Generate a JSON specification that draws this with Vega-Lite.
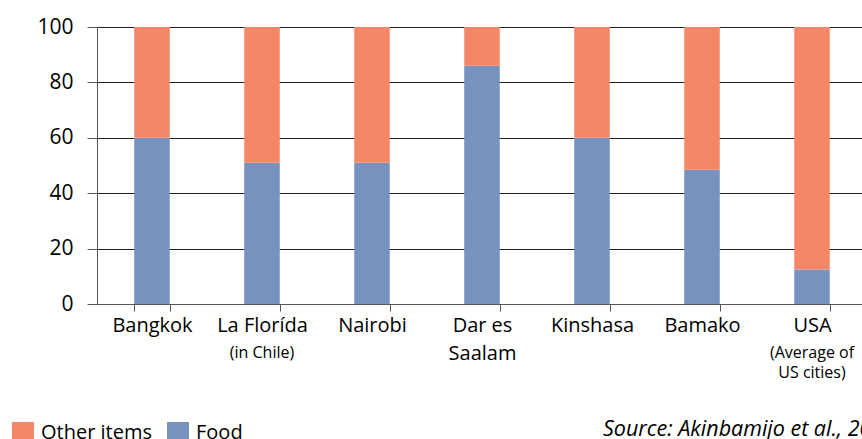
{
  "$schema": "https://vega.github.io/schema/vega-lite/v6.json",
  "width": 765,
  "height": 277,
  "autosize": {"type": "none"},
  "padding": {"left": 97, "top": 27, "right": 0, "bottom": 135},
  "config": {"font": "Open Sans", "view": {"stroke": null}},
  "title": {
    "text": "Source: Akinbamijo et al., 2002",
    "orient": "bottom",
    "anchor": "start",
    "frame": "group",
    "dx": 506,
    "offset": -25,
    "fontSize": 21.5,
    "fontStyle": "italic",
    "fontWeight": "normal",
    "color": "#000"
  },
  "datasets": {
    "bars": [
      {"city": "Bangkok", "category": "Food", "value": 60},
      {"city": "Bangkok", "category": "Other items", "value": 40},
      {"city": "La Florída", "category": "Food", "value": 51},
      {"city": "La Florída", "category": "Other items", "value": 49},
      {"city": "Nairobi", "category": "Food", "value": 51},
      {"city": "Nairobi", "category": "Other items", "value": 49},
      {"city": "Dar es Saalam", "category": "Food", "value": 86},
      {"city": "Dar es Saalam", "category": "Other items", "value": 14},
      {"city": "Kinshasa", "category": "Food", "value": 60},
      {"city": "Kinshasa", "category": "Other items", "value": 40},
      {"city": "Bamako", "category": "Food", "value": 48.5},
      {"city": "Bamako", "category": "Other items", "value": 51.5},
      {"city": "USA", "category": "Food", "value": 12.5},
      {"city": "USA", "category": "Other items", "value": 87.5}
    ],
    "subs": [
      {"city": "La Florída", "sub": "(in Chile)"},
      {"city": "USA", "sub": "(Average of\nUS cities)"}
    ]
  },
  "layer": [
    {
      "data": {"name": "bars"},
      "mark": {"type": "bar"},
      "encoding": {
        "x": {
          "field": "city",
          "type": "nominal",
          "sort": null,
          "scale": {
            "domain": ["Bangkok", "La Florída", "Nairobi", "Dar es Saalam", "Kinshasa", "Bamako", "USA"],
            "range": [0, 770],
            "paddingInner": 0.677,
            "paddingOuter": 0.3385
          },
          "axis": {
            "title": null,
            "labelAngle": 0,
            "tickBand": "extent",
            "tickSize": 7,
            "domainColor": "#555",
            "tickColor": "#555",
            "labelFontSize": 20,
            "labelPadding": 4,
            "labelLineHeight": 28,
            "labelColor": "#000",
            "labelExpr": "datum.label == 'Dar es Saalam' ? ['Dar es', 'Saalam'] : datum.label"
          }
        },
        "y": {
          "field": "value",
          "type": "quantitative",
          "stack": "zero",
          "scale": {"domain": [0, 100]},
          "axis": {
            "title": null,
            "values": [0, 20, 40, 60, 80, 100],
            "grid": true,
            "gridColor": "#222",
            "gridWidth": 1,
            "domainColor": "#555",
            "tickColor": "#555",
            "tickSize": 10,
            "labelFontSize": 21,
            "labelPadding": 14,
            "labelColor": "#000"
          }
        },
        "color": {
          "field": "category",
          "type": "nominal",
          "scale": {"domain": ["Other items", "Food"], "range": ["#F58668", "#7892BE"]},
          "legend": {
            "orient": "none",
            "legendX": -85,
            "legendY": 395,
            "direction": "horizontal",
            "title": null,
            "symbolType": "square",
            "symbolSize": 484,
            "symbolStrokeWidth": 0,
            "symbolOpacity": 1,
            "labelFontSize": 20,
            "labelColor": "#000",
            "labelOffset": 7,
            "columnPadding": 14,
            "padding": 0
          }
        },
        "order": {"field": "category", "sort": "ascending"}
      }
    },
    {
      "data": {"name": "subs"},
      "mark": {"type": "text", "baseline": "top", "dy": 41, "fontSize": 16, "lineBreak": "\n", "lineHeight": 20, "color": "#000"},
      "encoding": {
        "x": {"field": "city", "type": "nominal", "sort": null},
        "y": {"datum": 0, "type": "quantitative"},
        "text": {"field": "sub"}
      }
    }
  ]
}
